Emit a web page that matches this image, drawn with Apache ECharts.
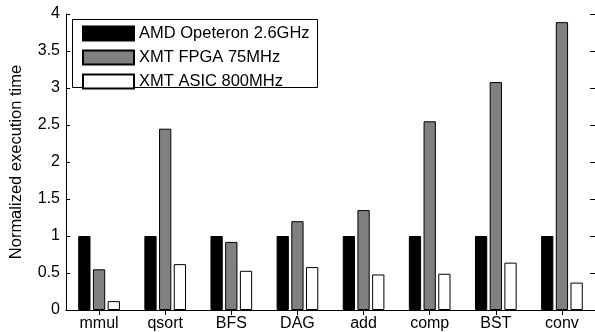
<!DOCTYPE html>
<html>
<head>
<meta charset="utf-8">
<script src="https://cdn.jsdelivr.net/npm/echarts@6/dist/echarts.min.js"></script>
<style>html,body{margin:0;padding:0;background:#fff;}#c{width:595px;height:332px;}</style>
</head>
<body>
<div id="c"></div>
<script>
const categories = ['mmul', 'qsort', 'BFS', 'DAG', 'add', 'comp', 'BST', 'conv'];
const seriesNames = ['AMD Opeteron 2.6GHz', 'XMT FPGA 75MHz', 'XMT ASIC 800MHz'];
const amd = [1, 1, 1, 1, 1, 1, 1, 1];
const fpga = [0.55, 2.45, 0.92, 1.20, 1.35, 2.55, 3.08, 3.89];
const asic = [0.12, 0.62, 0.53, 0.58, 0.48, 0.49, 0.64, 0.37];
const yTicks = [0, 0.5, 1, 1.5, 2, 2.5, 3, 3.5, 4];

const FONT = 'Liberation Sans, Arial, sans-serif';
const chart = echarts.init(document.getElementById('c'), null, {renderer: 'canvas'});
const colors = ['#000000', '#808080', '#ffffff'];
const dataSets = [amd, fpga, asic];

chart.setOption({
  animation: false,
  backgroundColor: '#ffffff',
  grid: {left: 60, top: 14, width: 537, height: 297.5, containLabel: false},
  legend: {
    orient: 'vertical', left: 82, top: 25, padding: 0,
    itemWidth: 51, itemHeight: 14, itemGap: 7,
    icon: 'rect',
    textStyle: {fontFamily: FONT, fontSize: 16.5, color: '#000', padding: [0, 0, 0, 0]},
    data: seriesNames,
    z: 10
  },
  graphic: [{
    type: 'rect', shape: {x: 72.5, y: 19.5, width: 245, height: 68},
    style: {fill: '#fff', stroke: '#000', lineWidth: 1}, z: 5
  }],
  xAxis: [{
    type: 'category', data: categories, position: 'bottom',
    axisLine: {lineStyle: {color: '#000', width: 1}},
    axisTick: {show: true, inside: true, alignWithLabel: true, length: 5, lineStyle: {color: '#000'}},
    axisLabel: {fontFamily: FONT, fontSize: 16, color: '#000', margin: 6}
  }, {
    type: 'category', data: categories, position: 'top',
    axisLine: {lineStyle: {color: '#000', width: 1}},
    axisTick: {show: true, inside: true, alignWithLabel: true, length: 5, lineStyle: {color: '#000'}},
    axisLabel: {show: false}
  }],
  yAxis: [{
    type: 'value', min: 0, max: 4, interval: 0.5, position: 'left',
    name: 'Normalized execution time', nameLocation: 'middle', nameGap: 41,
    nameTextStyle: {fontFamily: FONT, fontSize: 16.5, color: '#000'},
    axisLine: {show: true, lineStyle: {color: '#000', width: 1}},
    axisTick: {show: true, inside: true, length: 4, lineStyle: {color: '#000'}},
    splitLine: {show: false},
    axisLabel: {fontFamily: FONT, fontSize: 16, color: '#000', margin: 6,
      formatter: v => (yTicks.includes(v) ? String(v) : '')}
  }, {
    type: 'value', min: 0, max: 4, interval: 0.5, position: 'right',
    axisLine: {show: true, lineStyle: {color: '#000', width: 1}},
    axisTick: {show: true, inside: true, length: 5, lineStyle: {color: '#000'}},
    splitLine: {show: false},
    axisLabel: {show: false}
  }],
  series: seriesNames.map((n, i) => ({
    name: n, type: 'bar', data: dataSets[i],
    barGap: '20%', barCategoryGap: '37%',
    itemStyle: {color: colors[i], borderColor: '#000', borderWidth: 1},
    z: 3
  }))
});
</script>
</body>
</html>
